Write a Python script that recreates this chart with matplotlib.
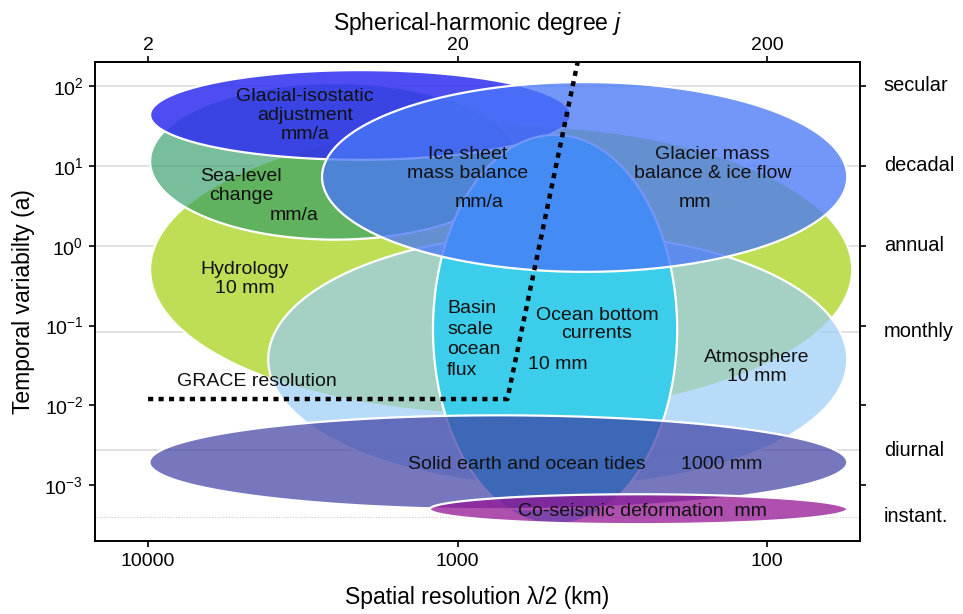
import numpy as np
import matplotlib.pyplot as plt
from matplotlib.ticker import FixedLocator, FixedFormatter, NullLocator

plt.rcParams['font.family'] = ['Liberation Sans', 'DejaVu Sans']
plt.rcParams['mathtext.fontset'] = 'custom'
plt.rcParams['mathtext.rm'] = 'Liberation Sans'
plt.rcParams['mathtext.it'] = 'Liberation Sans:italic'

# Signals, in drawing order (bottom first): spatial range in km, temporal range in years
signals = ['hydrology', 'atmosphere', 'sea_level', 'gia', 'ocean', 'ice', 'tides', 'seismic']
km_ranges = [(9850, 53), (4090, 55), (9850, 630), (9850, 430),
             (1200, 195), (2740, 55), (9900, 55), (1230, 55)]
yr_ranges = [(32.5, 0.0077), (1.45, 9.7e-4), (109, 1.19), (158, 11.9),
             (24.4, 3.25e-4), (112, 0.47), (0.0075, 5.0e-4), (7.7e-4, 3.25e-4)]
fill_colors = ['#bede55', '#9accf8', '#309b65', '#3030f0',
               '#3ccdeb', '#4977f8', '#3e3ea2', '#941694']
fill_alpha = [1.0, 0.69, 0.65, 0.86, 1.0, 0.77, 0.7, 0.75]

# GRACE resolution limit
grace_km = [10000, 690, 400]
grace_yr = [0.012, 0.012, 300]

# Characteristic time scales (right-hand side)
timescales = ['secular', 'decadal', 'annual', 'monthly', 'diurnal', 'instant.']
timescale_yr = [100, 10, 1, 1 / 12, 1 / 365, 4e-4]

# Labels: text, km, years, horizontal alignment
labels = [
    ('Glacial-isostatic\nadjustment\nmm/a', 3110, 42.2, 'center'),
    ('Sea-level\nchange', 5000, 5.6, 'center'),
    ('mm/a', 3375, 2.37, 'center'),
    ('Hydrology\n10 mm', 4860, 0.387, 'center'),
    ('Ice sheet\nmass balance', 925, 10.6, 'center'),
    ('mm/a', 852, 3.45, 'center'),
    ('Glacier mass\nbalance & ice flow', 150, 10.6, 'center'),
    ('mm', 171, 3.45, 'center'),
    ('Ocean bottom\ncurrents', 354, 0.103, 'center'),
    ('10 mm', 473, 0.0326, 'center'),
    ('Atmosphere\n10 mm', 108, 0.0299, 'center'),
    ('GRACE resolution', 8055, 0.02, 'left'),
    ('Solid earth and ocean tides', 596, 0.00183, 'center'),
    ('1000 mm', 140, 0.00183, 'center'),
    ('Co-seismic deformation  mm', 252, 4.73e-4, 'center'),
]


def log_ellipse(km_range, yr_range, n=400):
    """Ellipse that is round in log-log space, returned in data units."""
    lx = np.log10(km_range)
    ly = np.log10(yr_range)
    cx, rx = lx.mean(), abs(lx[1] - lx[0]) / 2
    cy, ry = ly.mean(), abs(ly[1] - ly[0]) / 2
    t = np.linspace(0, 2 * np.pi, n)
    return 10 ** (cx + rx * np.cos(t)), 10 ** (cy + ry * np.sin(t))


fig = plt.figure(figsize=(9.63, 6.14), dpi=100)
ax = fig.add_axes([0.0987, 0.1189, 0.7944, 0.7802])
ax.set_xscale('log')
ax.set_yscale('log')
ax.set_xlim(14840, 50)
ax.set_ylim(2.0e-4, 200)

# time-scale guide lines
for yr in timescale_yr[:-1]:
    ax.axhline(yr, color='#d9d9d9', lw=1.1, zorder=0.5)
ax.axhline(timescale_yr[-1], color='#cccccc', lw=0.8, ls=(0, (1, 1.5)), zorder=0.5)

for i, name in enumerate(signals):
    ex, ey = log_ellipse(km_ranges[i], yr_ranges[i])
    r, g, b = [int(fill_colors[i][k:k + 2], 16) / 255 for k in (1, 3, 5)]
    ax.fill(ex, ey, facecolor=(r, g, b, fill_alpha[i]), edgecolor='white',
            lw=1.6, zorder=1 + i)

ax.plot(grace_km, grace_yr, color='black', lw=3.2, ls=(0, (1.15, 1.2)),
        zorder=20)

for text, km, yr, ha in labels:
    ax.text(km, yr, text, ha=ha, va='center', fontsize=14, color='#111111',
            linespacing=1.15, zorder=30)
ax.text(1082, 0.0668, 'Basin\nscale\nocean\nflux', ha='left', va='center',
        fontsize=14, color='#111111', linespacing=1.3, zorder=30)

for name, yr in zip(timescales, timescale_yr):
    ax.text(1.031, yr, name, transform=ax.get_yaxis_transform(),
            ha='left', va='center', fontsize=14.4)

# axes and ticks
ax.xaxis.set_major_locator(FixedLocator([10000, 1000, 100]))
ax.xaxis.set_major_formatter(FixedFormatter(['10000', '1000', '100']))
ax.xaxis.set_minor_locator(NullLocator())
yticks = [1e-3, 1e-2, 1e-1, 1, 10, 100]
ax.yaxis.set_major_locator(FixedLocator(yticks))
ax.yaxis.set_major_formatter(FixedFormatter(
    [r'$\mathregular{10^{%d}}$' % k for k in range(-3, 3)]))
ax.yaxis.set_minor_locator(NullLocator())
ax.tick_params(which='major', direction='out', length=4.5, width=1.2,
               labelsize=14, right=True, top=False, pad=4)
for sp in ax.spines.values():
    sp.set_linewidth(1.4)

secax = ax.secondary_xaxis('top', functions=(lambda x: 20000 / x,
                                             lambda j: 20000 / j))
secax.xaxis.set_major_locator(FixedLocator([2, 20, 200]))
secax.xaxis.set_major_formatter(FixedFormatter(['2', '20', '200']))
secax.xaxis.set_minor_locator(NullLocator())
secax.tick_params(direction='out', length=4.5, width=1.2, labelsize=14, pad=1)
secax.spines['top'].set_linewidth(1.4)
secax.set_xlabel(r'Spherical-harmonic degree $j$', fontsize=16.5, labelpad=5)

ax.set_xlabel(r'Spatial resolution λ/2 (km)', fontsize=16.5)
ax.xaxis.set_label_coords(0.5, -0.094)
ax.set_ylabel('Temporal variabilty (a)', fontsize=16.5)
ax.yaxis.set_label_coords(-0.078, 0.5)

fig.savefig('out.png', dpi=100)
